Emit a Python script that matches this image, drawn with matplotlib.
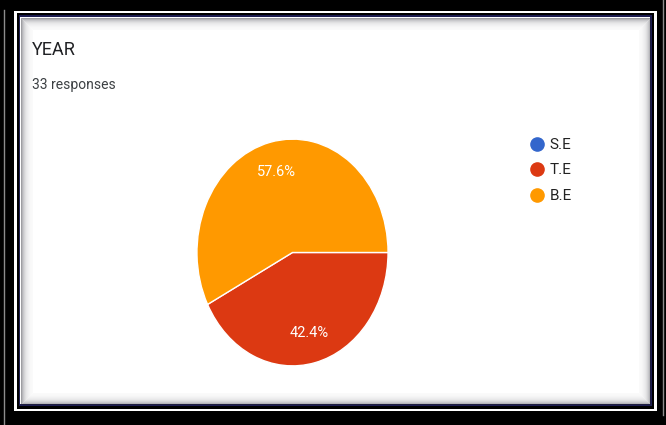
import numpy as np
import matplotlib
matplotlib.use("Agg")
import matplotlib.pyplot as plt
from matplotlib.patches import Rectangle
from matplotlib.lines import Line2D

# Survey answers for "YEAR"
categories = ["S.E", "T.E", "B.E"]
responses = [0, 14, 19]
colors = ["#3366cc", "#dc3912", "#ff9900"]
title = "YEAR"
subtitle = "33 responses"

W, H = 666, 425
fig = plt.figure(figsize=(W / 100, H / 100), dpi=100)
fig.patch.set_facecolor("black")

# Decorative frame drawn in pixel coordinates
bg = fig.add_axes([0, 0, 1, 1])
bg.set_xlim(0, W)
bg.set_ylim(H, 0)
bg.axis("off")


def rect(x0, y0, x1, y1, color, z, fill=True, lw=0, alpha=1.0):
    if fill:
        bg.add_patch(Rectangle((x0, y0), x1 - x0, y1 - y0, facecolor=color,
                               edgecolor="none", zorder=z))
    else:
        bg.add_patch(Rectangle((x0, y0), x1 - x0, y1 - y0, facecolor="none",
                               edgecolor=color, linewidth=lw, alpha=alpha,
                               zorder=z))


bg.plot([3.5, 3.5], [10, H], color="#8c8c8c", lw=1, zorder=1)
bg.plot([662.5, 662.5], [0, 415], color="#8c8c8c", lw=1, zorder=1)
rect(14, 11, 657, 411, "white", 1)
rect(17, 13, 654, 409, "black", 2)
rect(19, 15, 651.5, 406, "#1c1c50", 3)

# Inner panel with a soft inset shadow
x0, y0, x1, y1 = 20, 17, 650, 404
rect(x0, y0, x1, y1, "white", 4)
for i in range(12):
    a = 0.5 * np.exp(-(i + 0.5) / 3.5)
    rect(x0 + i + 0.5, y0 + i + 0.5, x1 - i - 0.5, y1 - i - 0.5, "#20202a",
         4.5, fill=False, lw=0.72, alpha=a)

bg.text(32, 50, title, fontsize=13, color="#202124", va="center",
        ha="left", family="Roboto", zorder=5)
bg.text(32, 85, subtitle, fontsize=10, color="#3c4043", va="center",
        ha="left", family="Roboto", zorder=5)

# Pie chart
ax = fig.add_axes([196 / W, 1 - 367 / H, 193 / W, 229 / H])
ax.set_zorder(6)
ax.pie(responses, colors=colors, startangle=0, counterclock=False,
       autopct=lambda p: f"{p:.1f}%" if p > 0 else "",
       pctdistance=0.73,
       wedgeprops=dict(edgecolor="white", linewidth=1),
       textprops=dict(color="white", fontsize=10.5, family="Roboto"))
ax.set_aspect("auto")
ax.set_xlim(-1.01, 1.01)
ax.set_ylim(-1.01, 1.01)
ax.axis("off")

handles = [Line2D([], [], marker="o", linestyle="none", markersize=9.5,
                  markerfacecolor=c, markeredgecolor=c) for c in colors]
leg = fig.legend(handles, categories, loc="upper left",
                 bbox_to_anchor=(529 / W, 1 - 138 / H), frameon=False,
                 handletextpad=0.35, labelspacing=0.75,
                 borderaxespad=0, borderpad=0, handlelength=1,
                 prop=dict(family="Roboto", size=11))
for t in leg.get_texts():
    t.set_color("#222222")
leg.set_zorder(7)

fig.savefig("out.png", dpi=100, facecolor=fig.get_facecolor())
